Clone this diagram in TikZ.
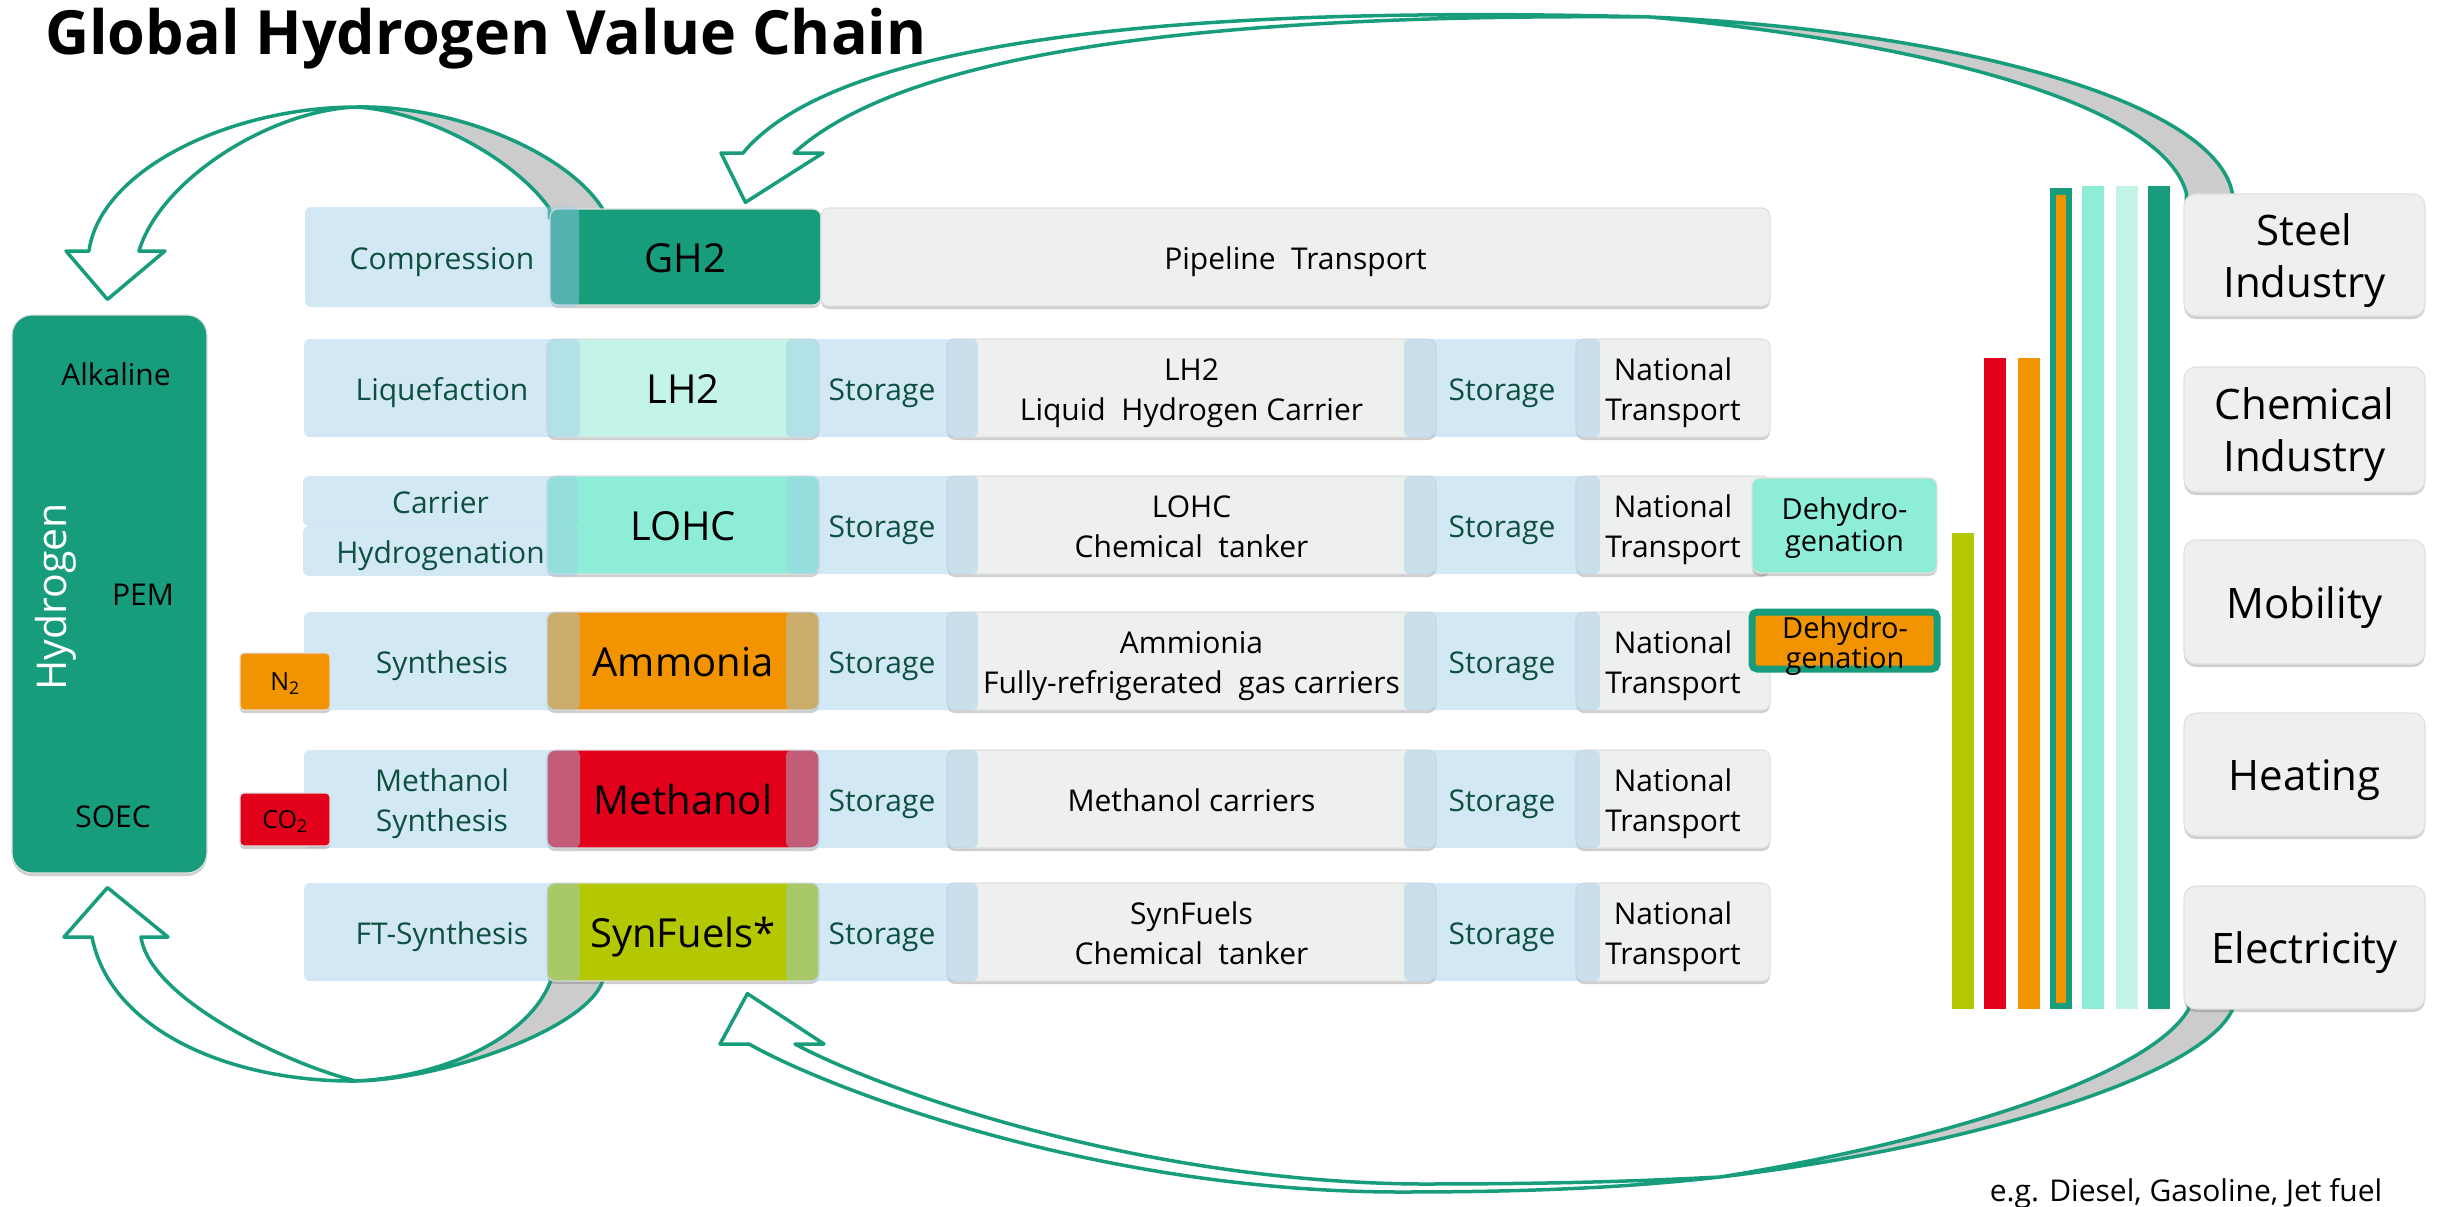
\documentclass[tikz,border=0pt]{standalone}
\usepackage{fontspec}
\setmainfont{Open Sans}
\usetikzlibrary{calc}
\usetikzlibrary{shadows}

\definecolor{hgreen}{RGB}{24,157,124}
\definecolor{lh2col}{RGB}{196,244,232}
\definecolor{lohccol}{RGB}{141,237,214}
\definecolor{nh3col}{RGB}{242,148,0}
\definecolor{meohcol}{RGB}{226,0,26}
\definecolor{synfcol}{RGB}{179,200,0}
\definecolor{procblue}{RGB}{157,204,233}
\definecolor{boxgray}{RGB}{238,240,239}
\definecolor{labelgreen}{RGB}{14,80,64}
\definecolor{backgray}{RGB}{204,204,204}

\pgfdeclarelayer{back}
\pgfsetlayers{back,main}

% lines of a label, centred on the box
\newcommand{\stack}[1]{\raisebox{-.14em}[\height][\depth]{\begin{tabular}{@{}c@{}}#1\end{tabular}}}
% box from its corners (x1,y1) (x2,y2)
\newcommand{\placebox}[7]{%
  \node[#2, minimum width={#5-#3}, minimum height={#6-#4}] (#1) at ({(#3+#5)/2},{(#4+#6)/2}) {\stack{#7}};}

\tikzset{
  txt/.style={font=\fontsize{30}{40}\selectfont},
  graybox/.style={draw=black!12, line width=1.2, fill=boxgray, rounded corners=8,
    drop shadow={shadow xshift=0pt, shadow yshift=-3pt, opacity=.35, fill=black!55},
    inner sep=0, txt},
  fuelbox/.style={graybox, fill=#1, font=\fontsize{40}{48}\selectfont},
  procbox/.style={fill=procblue, fill opacity=.45, text opacity=1, text=labelgreen,
    rounded corners=6, inner sep=0, txt},
  ribbon/.style={draw=hgreen, line width=3.5, line join=round},
}

\begin{document}
\begin{tikzpicture}[x=1pt, y=-1pt]
\useasboundingbox (0,0) rectangle (2445,1207);

\node[anchor=base west, inner sep=0, font=\bfseries\fontsize{61}{70}\selectfont] (title) at (45,55) {Global Hydrogen Value Chain};

% electrolysis
\placebox{H}{graybox, fill=hgreen, rounded corners=20}{12}{315}{207}{873}{}
\node[txt] (alk) at (116,373) {\stack{Alkaline}};
\node[txt] (pem) at (143,593) {\stack{PEM}};
\node[txt] (soec) at (113,815) {\stack{SOEC}};
\node[font=\fontsize{41}{48}\selectfont, text=white, rotate=90] (hyd) at (51,597) {\stack{Hydrogen}};

% gas row
\placebox{GH}{fuelbox=hgreen}{550}{209}{821}{305}{GH2}
\placebox{PT}{graybox}{821}{208}{1770}{306}{Pipeline\ \ Transport}
\placebox{CP}{procbox}{305}{207}{579}{307}{Compression}

% carrier rows
\foreach \ty/\nm/\col/\lab/\carr in {339/LH/lh2col/LH2/{LH2\\Liquid\ \ Hydrogen Carrier},
    476/LO/lohccol/LOHC/{LOHC\\Chemical\ \ tanker},
    612/AM/nh3col/Ammonia/{Ammionia\\Fully-refrigerated\ \ gas carriers},
    750/ME/meohcol/Methanol/{Methanol carriers},
    883/SF/synfcol/SynFuels*/{SynFuels\\Chemical\ \ tanker}}{
  \placebox{\nm}{fuelbox=\col}{547}{\ty}{819}{\ty+98}{\lab}
  \placebox{\nm-c}{graybox}{947}{\ty}{1436}{\ty+98}{\carr}
  \placebox{\nm-t}{graybox}{1576}{\ty}{1770}{\ty+98}{National\\Transport}
  \placebox{\nm-s1}{procbox}{786}{\ty}{978}{\ty+98}{Storage}
  \placebox{\nm-s2}{procbox}{1404}{\ty}{1600}{\ty+98}{Storage}
}

\placebox{LQ}{procbox}{304}{339}{580}{437}{Liquefaction}
\placebox{CA}{procbox}{303}{476}{578}{526}{Carrier}
\placebox{HG}{procbox}{303}{526}{578}{576}{Hydrogenation}
\placebox{SY}{procbox}{304}{612}{580}{710}{Synthesis}
\placebox{MS}{procbox}{304}{750}{580}{848}{Methanol\\Synthesis}
\placebox{FT}{procbox}{304}{883}{580}{981}{FT-Synthesis}

% feedstock
\placebox{N}{graybox, fill=nh3col, rounded corners=4, font=\fontsize{25}{28}\selectfont}{240}{653}{330}{710}{N\textsubscript{2}}
\placebox{CO}{graybox, fill=meohcol, rounded corners=4, font=\fontsize{25}{28}\selectfont}{240}{793}{330}{846}{CO\textsubscript{2}}

% dehydrogenation
\placebox{DL}{graybox, fill=lohccol, font=\fontsize{29}{32}\selectfont}{1752}{478}{1937}{573}{Dehydro-\\genation}
\placebox{DA}{graybox, fill=nh3col, draw=hgreen, line width=7, rounded corners=5}{1752}{612}{1937}{669}{}
\node[font=\fontsize{29}{30}\selectfont, inner sep=0] (DAt) at (1845,643) {\stack{Dehydro-\\genation}};

% end use
\foreach \ty/\yb/\nm/\lbl in {194/316/ST/{Steel\\Industry}, 367/492/CI/{Chemical\\Industry},
    540/664/MO/Mobility, 713/836/HE/Heating, 886/1009/EL/Electricity}{
  \placebox{\nm}{graybox, rounded corners=12, font=\fontsize{42}{52}\selectfont}{2184}{\ty}{2425}{\yb}{\lbl}
}

\foreach \xa/\ya/\col in {1952/533/synfcol, 1984/358/meohcol, 2018/358/nh3col, 2050/188/hgreen,
    2082/186/lohccol, 2116/186/lh2col, 2148/186/hgreen}
  \fill[\col] (\xa,\ya) rectangle (\xa+22,1009);
\fill[nh3col] (2056,195) rectangle (2066,1003);

\node[txt, anchor=base] (note) at (2186,1201) {e.g. Diesel, Gasoline, Jet fuel};

% return arrows
\begin{pgfonlayer}{back}
  % GH2 -> hydrogen
  \coordinate (ulTip) at ($(H.north)+(-2,-15)$);
  \draw[ribbon, fill=white] (357,107) .. controls (230,107) and (100,170) .. (89,251) -- (66,251) -- (ulTip)
    -- (165,251) -- (139,251) .. controls (160,180) and (270,110) .. (357,107) -- cycle;
  \draw[ribbon, fill=backgray] (357,107) .. controls (450,105) and (565,150) .. ($(GH.north west)+(53,0)$)
    -- ++(0,10) -- ($(GH.north west)+(0,10)$) -- (GH.north west) .. controls (515,160) and (430,112) .. (357,107) -- cycle;
  % synfuels -> hydrogen
  \coordinate (llTip) at ($(H.south)+(-2,14)$);
  \draw[ribbon, fill=white] (356,1081) .. controls (230,1082) and (110,1030) .. (92,937) -- (64,937) -- (llTip)
    -- (168,937) -- (141,937) .. controls (150,1000) and (290,1065) .. (356,1081) -- cycle;
  \draw[ribbon, fill=backgray] (356,1081) .. controls (440,1080) and (585,1030) .. ($(SF.south west)+(56,0)$)
    -- ++(0,-10) -- ($(SF.south west)+(4,-10)$) -- ($(SF.south west)+(4,0)$) .. controls (530,1035) and (450,1076) .. (356,1081) -- cycle;
  % steel -> GH2
  \coordinate (urTip) at ($(GH.north west)+(196,-6)$);
  \draw[ribbon, fill=white] (1650,17) .. controls (1080,2) and (820,60) .. (743,153) -- (721,153) -- (urTip)
    -- (823,153) -- (794,153) .. controls (880,75) and (1100,12) .. (1650,17) -- cycle;
  \draw[ribbon, fill=backgray] (1650,17) .. controls (1950,30) and (2215,100) .. ($(ST.north west)+(49,0)$)
    -- ++(0,12) -- ($(ST.north west)+(3,12)$) -- ($(ST.north west)+(3,0)$) .. controls (2165,110) and (1950,45) .. (1650,17) -- cycle;
  % electricity -> synfuels
  \coordinate (lrTip) at ($(SF.south west)+(201,12)$);
  \draw[ribbon, fill=white] (1720,1177) .. controls (1640,1186) and (1550,1192) .. (1400,1192)
    .. controls (1100,1192) and (830,1090) .. (749,1044) -- (720,1044) -- (lrTip) -- (824,1044) -- (795,1044)
    .. controls (870,1085) and (1130,1182) .. (1420,1184) .. controls (1560,1184) and (1640,1181) .. (1720,1177) -- cycle;
  \draw[ribbon, fill=backgray] (1720,1177) .. controls (1950,1150) and (2200,1080) .. ($(EL.south west)+(49,0)$)
    -- ++(0,-10) -- ($(EL.south west)+(5,-10)$) -- ($(EL.south west)+(5,0)$) .. controls (2150,1075) and (1950,1140) .. (1720,1177) -- cycle;
\end{pgfonlayer}
\end{tikzpicture}
\end{document}
